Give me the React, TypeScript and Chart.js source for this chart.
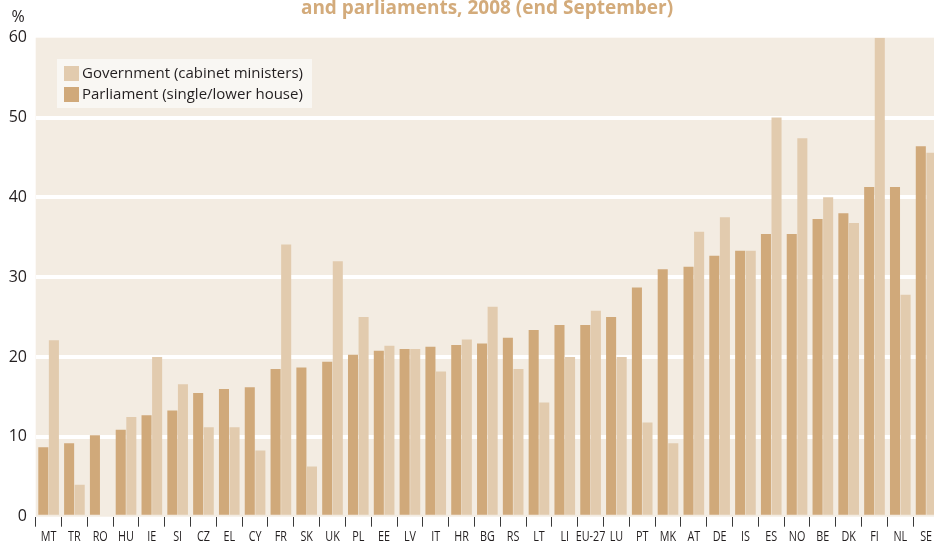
import React, { useEffect, useRef } from "react";
import { Chart, registerables } from "chart.js";

Chart.register(...registerables);

const titleText = "and parliaments, 2008 (end September)";
const unitLabel = "%";
const categories = ["MT", "TR", "RO", "HU", "IE", "SI", "CZ", "EL", "CY", "FR", "SK", "UK", "PL", "EE", "LV", "IT", "HR", "BG", "RS", "LT", "LI", "EU-27", "LU", "PT", "MK", "AT", "DE", "IS", "ES", "NO", "BE", "DK", "FI", "NL", "SE"];
const parliament = [8.7, 9.2, 10.2, 10.9, 12.7, 13.3, 15.5, 16.0, 16.2, 18.5, 18.7, 19.4, 20.3, 20.8, 21.0, 21.3, 21.5, 21.7, 22.4, 23.4, 24.0, 24.0, 25.0, 28.7, 31.0, 31.3, 32.7, 33.3, 35.4, 35.4, 37.3, 38.0, 41.3, 41.3, 46.4];
const government = [22.1, 4.0, 0, 12.5, 20.0, 16.6, 11.2, 11.2, 8.3, 34.1, 6.3, 32.0, 25.0, 21.4, 21.0, 18.2, 22.2, 26.3, 18.5, 14.3, 20.0, 25.8, 20.0, 11.8, 9.2, 35.7, 37.5, 33.3, 50.0, 47.4, 40.0, 36.8, 60.0, 27.8, 45.6];
const yTicks = [0, 10, 20, 30, 40, 50, 60];
const seriesNames = ["Government (cabinet ministers)", "Parliament (single/lower house)"];

const DARK = "#D0A97A";
const LIGHT = "#E2CBAE";
const PLOT_BG = "#F3ECE2";
const TEXT = "#231F20";

const decorPlugin = {
  id: "decor",
  beforeDraw(chart: any) {
    const { ctx, chartArea } = chart;
    ctx.save();
    ctx.fillStyle = PLOT_BG;
    ctx.fillRect(chartArea.left, chartArea.top, chartArea.right - chartArea.left, chartArea.bottom - chartArea.top);
    ctx.restore();
  },
  afterDraw(chart: any) {
    const { ctx } = chart;
    ctx.save();
    // title (visible line)
    ctx.fillStyle = "#D3AB7B";
    ctx.font = "bold 19px 'Open Sans', sans-serif";
    ctx.textAlign = "center";
    ctx.textBaseline = "alphabetic";
    ctx.fillText(titleText, 487, 14);
    // unit label
    ctx.fillStyle = TEXT;
    ctx.font = "16px 'Open Sans', sans-serif";
    ctx.textAlign = "center";
    ctx.textBaseline = "middle";
    ctx.fillText(unitLabel, 18, 17);
    // legend
    ctx.fillStyle = "#F9F7F3";
    ctx.fillRect(57, 59, 255, 49);
    const colors = [LIGHT, DARK];
    const ys = [73.5, 94.5];
    ctx.font = "15px 'Open Sans', sans-serif";
    ctx.textAlign = "left";
    for (let i = 0; i < 2; i++) {
      ctx.fillStyle = colors[i];
      ctx.fillRect(64, ys[i] - 7.5, 15, 15);
      ctx.fillStyle = TEXT;
      ctx.fillText(seriesNames[i], 82, ys[i] + 0.5);
    }
    // condensed category labels
    const xs = chart.scales.x;
    ctx.fillStyle = TEXT;
    ctx.font = "15px 'Open Sans', sans-serif";
    ctx.textAlign = "center";
    ctx.textBaseline = "middle";
    const sx = 0.72;
    categories.forEach((c, i) => {
      const px = xs.getPixelForValue(i);
      ctx.save();
      ctx.translate(px, 537);
      ctx.scale(sx, 1);
      ctx.fillText(c, 0, 0);
      ctx.restore();
    });
    ctx.restore();
  },
};

export default function App() {
  const ref = useRef<HTMLCanvasElement | null>(null);
  useEffect(() => {
    if (!ref.current) return;
    const chart = new Chart(ref.current, {
      type: "bar",
      data: {
        labels: categories,
        datasets: [
          { label: seriesNames[1], data: parliament, backgroundColor: DARK, categoryPercentage: 0.82, barPercentage: 0.95 },
          { label: seriesNames[0], data: government, backgroundColor: LIGHT, categoryPercentage: 0.82, barPercentage: 0.95 },
        ],
      },
      options: {
        responsive: false,
        animation: false,
        devicePixelRatio: 1,
        layout: { padding: { top: 37.7, left: 0, right: 0, bottom: 0 } },
        plugins: { legend: { display: false }, tooltip: { enabled: false }, title: { display: false } },
        scales: {
          x: {
            offset: true,
            grid: { display: true, offset: true, drawOnChartArea: false, drawTicks: true, tickLength: 10, color: "#3a3a3a", lineWidth: 1 },
            border: { display: false },
            ticks: { display: false, autoSkip: false, maxRotation: 0 },
            afterFit(scale: any) { scale.height = 29.3; },
          },
          y: {
            min: yTicks[0],
            max: yTicks[yTicks.length - 1],
            afterBuildTicks(scale: any) { scale.ticks = yTicks.map((v) => ({ value: v })); },
            grid: {
              color: (c: any) => (c.tick && (c.tick.value === 0 || c.tick.value === 60) ? "rgba(0,0,0,0)" : "#FFFFFF"),
              lineWidth: 4,
              drawTicks: false,
            },
            border: { display: false },
            ticks: { color: TEXT, font: { family: "'Open Sans', sans-serif", size: 16 }, padding: 8.7 },
            afterFit(scale: any) { scale.width = 35.7; },
          },
        },
      },
      plugins: [decorPlugin],
    });
    return () => chart.destroy();
  }, []);
  return (
    <div style={{ position: "fixed", left: 0, top: 0, width: 934, height: 546, overflow: "hidden", background: "#fff" }}>
      <canvas ref={ref} width={939} height={546} style={{ width: 939, height: 546, display: "block" }} />
    </div>
  );
}
